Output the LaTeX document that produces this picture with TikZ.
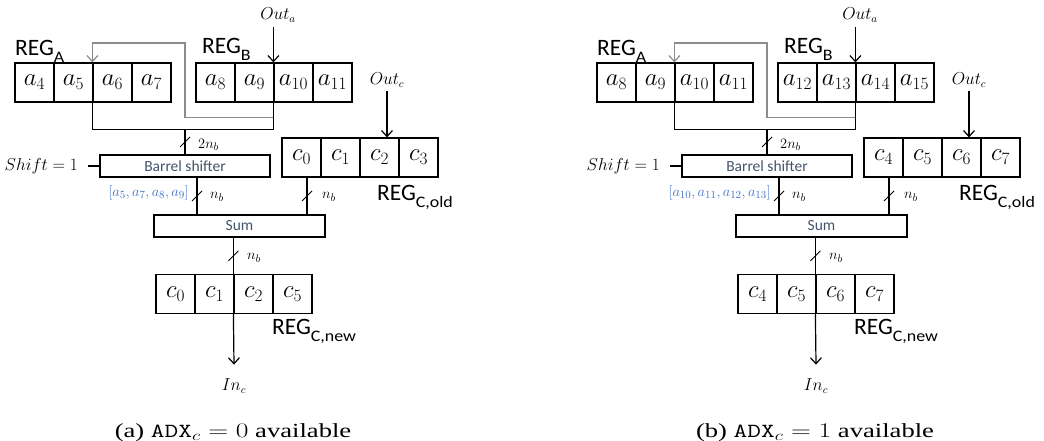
\documentclass[tikz,border=0pt]{standalone}
\usepackage{fontspec}
\setmainfont{Liberation Serif}
\newfontfamily\calib{Carlito}
\usetikzlibrary{arrows.meta,calc}
\definecolor{lbl}{HTML}{44546A}
\definecolor{blu}{HTML}{4472C4}
\definecolor{fb}{HTML}{8C8C8C}
\newcommand\regname[1]{{\calib\fontsize{23.5}{23}\selectfont REG\raisebox{-7pt}{\scalebox{1.12}[1]{\fontsize{16}{16}\selectfont #1}}}}
\tikzset{
  cell/.style={draw, line width=1.2pt, minimum width=39pt, minimum height=39pt, inner sep=0pt, font=\fontsize{24}{24}\selectfont},
  unit/.style={draw, line width=1.2pt, inner sep=0pt, minimum height=22pt, font=\calib\fontsize{15.5}{16}\selectfont, text=lbl},
  wire/.style={line width=1.2pt},
  arr/.style={wire, -{Straight Barb[length=6pt,width=11pt]}},
  fbk/.style={line width=1.2pt, draw=fb, -{Straight Barb[length=6pt,width=11pt]}},
  lab/.style={inner sep=0pt, font=\fontsize{16}{16}\selectfont},
  nb/.style={inner sep=0pt, anchor=west, font=\fontsize{15}{15}\selectfont},
  regl/.style={inner sep=0pt, anchor=base west},
  busmark/.pic={\draw[line width=0.9pt] (-5pt,-5pt) -- (5pt,5pt);},
}
\newcommand\drawpanel[7]{%
  \foreach \t [count=\i] in {#2} \node[cell] (#1A\i) at ({15+39*\i-19.5},82.5) {$\t$};
  \foreach \t [count=\i] in {#3} \node[cell] (#1B\i) at ({196+39*\i-19.5},82.5) {$\t$};
  \foreach \t [count=\i] in {#4} \node[cell] (#1O\i) at ({282+39*\i-19.5},157.5) {$\t$};
  \foreach \t [count=\i] in {#5} \node[cell] (#1N\i) at ({156+39*\i-19.5},294) {$\t$};
  \node[regl] (#1rA) at (15,56) {\regname{A}};
  \node[regl] (#1rB) at (202,54) {\regname{B}};
  \node[regl] (#1rO) at (377,200) {\regname{C,old}};
  \node[regl] (#1rN) at (272,334) {\regname{C,new}};
  \node[lab] (#1oa) at (278,15) {$Out_a$};
  \node[lab] (#1oc) at (387,80) {$Out_c$};
  \node[lab] (#1ic) at (234,386) {$In_c$};
  \node[unit, minimum width=170pt] (#1bs) at (185,166) {Barrel shifter};
  \node[unit, minimum width=171pt] (#1sum) at (239.5,226) {Sum};
  \node[lab, anchor=east] (#1sh) at (78,166) {$Shift=1$};
  % output a into REG_B
  \draw[arr] ([yshift=-5pt]#1oa.south -| #1B3.north west) -- (#1B3.north west);
  % bus from A and B
  \draw[wire] (#1A3.south west) -- ++(0,27) coordinate (#1bl) -| (#1B3.south west);
  \coordinate (#1gk) at (185,43);
  \draw[fbk] ([yshift=-15pt]#1B3.south west) -| (#1gk) -| (#1A3.north west);
  \draw[wire] (#1bl -| #1bs.north) -- (#1bs.north);
  \path ($(#1bl -| #1bs.north)!0.5!(#1bs.north)$) pic {busmark};
  \node[nb] (#1l2n) at (198,145) {$2n_b$};
  \draw[wire] ([xshift=10pt]#1sh.east) -- (#1bs.west);
  % barrel -> sum
  \draw[wire] ([xshift=12pt]#1bs.south) -- ([xshift=12pt]#1bs.south |- #1sum.north);
  \path ($([xshift=12pt]#1bs.south)!0.5!([xshift=12pt]#1bs.south |- #1sum.north)$) pic {busmark};
  \node[nb] (#1ln1) at (210,197) {$n_b$};
  \node[lab, anchor=east, text=blu, font=\fontsize{15.5}{15}\selectfont] (#1bl2) at (189,193) {$#6$};
  % Out_c -> REG_C,old
  \draw[arr] ([yshift=-4pt]#1oc.south) -- (#1oc.south |- #1O3.north);
  % C old -> sum
  \draw[wire] ([xshift=5.5pt]#1O1.south) -- ([xshift=5.5pt]#1O1.south |- #1sum.north);
  \path ($([xshift=5.5pt]#1O1.south)!0.5!([xshift=5.5pt]#1O1.south |- #1sum.north)$) pic {busmark};
  \node[nb] (#1ln2) at (322,197) {$n_b$};
  % sum -> C new
  \draw[wire] (#1sum.south -| #1N3.north west) -- (#1N3.north west);
  \path ($(#1sum.south -| #1N3.north west)!0.5!(#1N3.north west)$) pic {busmark};
  \node[nb] (#1ln3) at (247,258) {$n_b$};
  \draw[arr] (#1N3.south west) -- ([yshift=14pt]#1ic.north);
  % caption
  \node[inner sep=0pt, anchor=base] (#1cap) at (233,437) {\scalebox{1.33}[1]{\fontsize{20}{20}\selectfont #7}};
}
\begin{document}
\begin{tikzpicture}[x=1pt,y=-1pt]
  \useasboundingbox (0,0) rectangle (1044,441);
  \drawpanel{L}{a_4,a_5,a_6,a_7}{a_8,a_9,a_{10},a_{11}}{c_0,c_1,c_2,c_3}{c_0,c_1,c_2,c_5}{[a_5,a_7,a_8,a_9]}{(a) \texttt{ADX}$_c=0$ available}
  \begin{scope}[xshift=582pt]
  \drawpanel{R}{a_8,a_9,a_{10},a_{11}}{a_{12},a_{13},a_{14},a_{15}}{c_4,c_5,c_6,c_7}{c_4,c_5,c_6,c_7}{[a_{10},a_{11},a_{12},a_{13}]}{(b) \texttt{ADX}$_c=1$ available}
  \end{scope}
\end{tikzpicture}
\end{document}
